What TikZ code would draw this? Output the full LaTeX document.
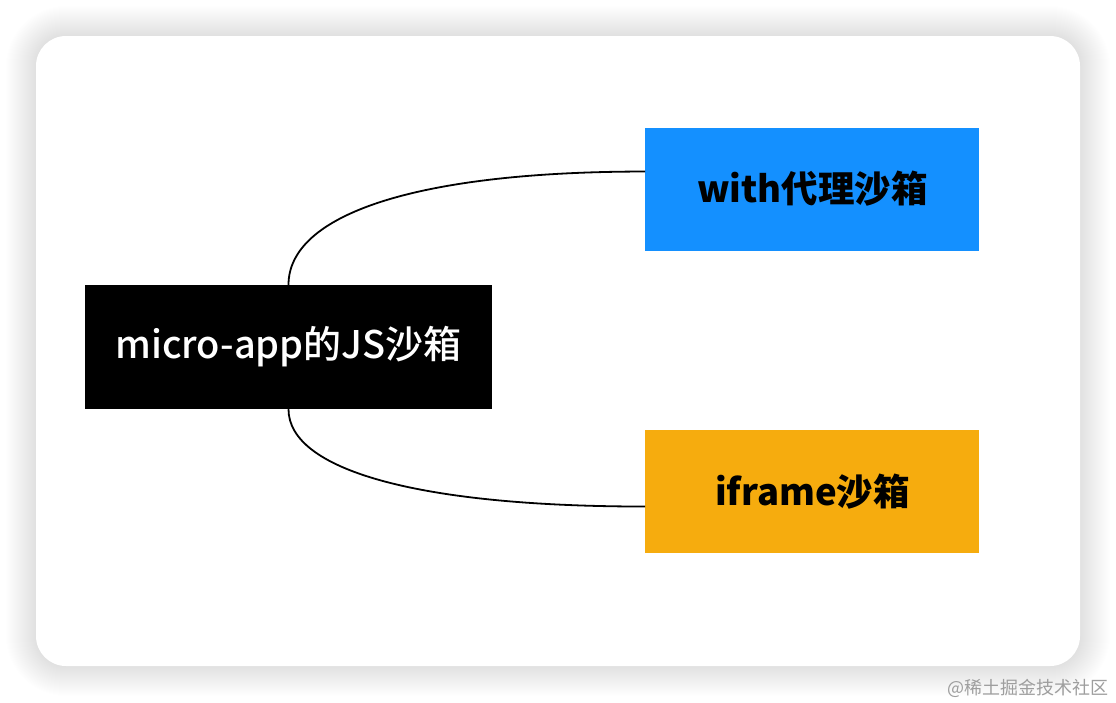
\documentclass[tikz,border=0pt]{standalone}
\usepackage{fontspec}
\setmainfont{Noto Sans CJK SC}
\newfontfamily\cjkmed{Noto Sans CJK SC Medium}
\usepackage{tikz}
\usetikzlibrary{calc}
\usetikzlibrary{positioning}
\definecolor{boxblue}{RGB}{20,144,255}
\definecolor{boxorange}{RGB}{246,172,14}
\definecolor{markgray}{RGB}{158,158,158}
\tikzstyle{block} = [rectangle, draw=none, inner sep=0pt,
 minimum width=334pt, minimum height=123pt, font=\fontsize{36.5}{40}\selectfont\bfseries]
\tikzstyle{link} = [draw=black, line width=1.8pt]

\begin{document}
\begin{tikzpicture}[x=1pt, y=-1pt, node distance = 0pt]
\useasboundingbox (0,0) rectangle (1116,702);
\fill[white] (0,0) rectangle (1116,702);

% card with soft shadow
\foreach \s [evaluate=\s as \r using 30+\s] in {1,...,30}
  \fill[black, opacity=0.005, rounded corners=\r pt] ({36-\s},{36-\s}) rectangle ({1080+\s},{666+\s});
\fill[white, rounded corners=30pt] (36,36) rectangle (1080,666);

\node[block, fill=black, text=white, minimum width=407pt, minimum height=124pt,
  font=\fontsize{38}{42}\selectfont\cjkmed] (app) at (288.5,347) {micro-app的JS沙箱};

\node[block, fill=boxblue, above right = 34pt and 153pt of app] (with) {with代理沙箱};
\node[block, fill=boxorange, below right = 21pt and 153pt of app] (iframe) {iframe沙箱};

\draw[link] (app.north) .. controls +(0,-70) and +(-230,0) .. (with.174);
\draw[link] (app.south) .. controls +(0,60) and +(-230,0) .. (iframe.185);

\node[anchor=base east, text=markgray, inner sep=0pt, font=\fontsize{18}{20}\selectfont] (wm) at (1109,694) {@稀土掘金技术社区};

\end{tikzpicture}
\end{document}
